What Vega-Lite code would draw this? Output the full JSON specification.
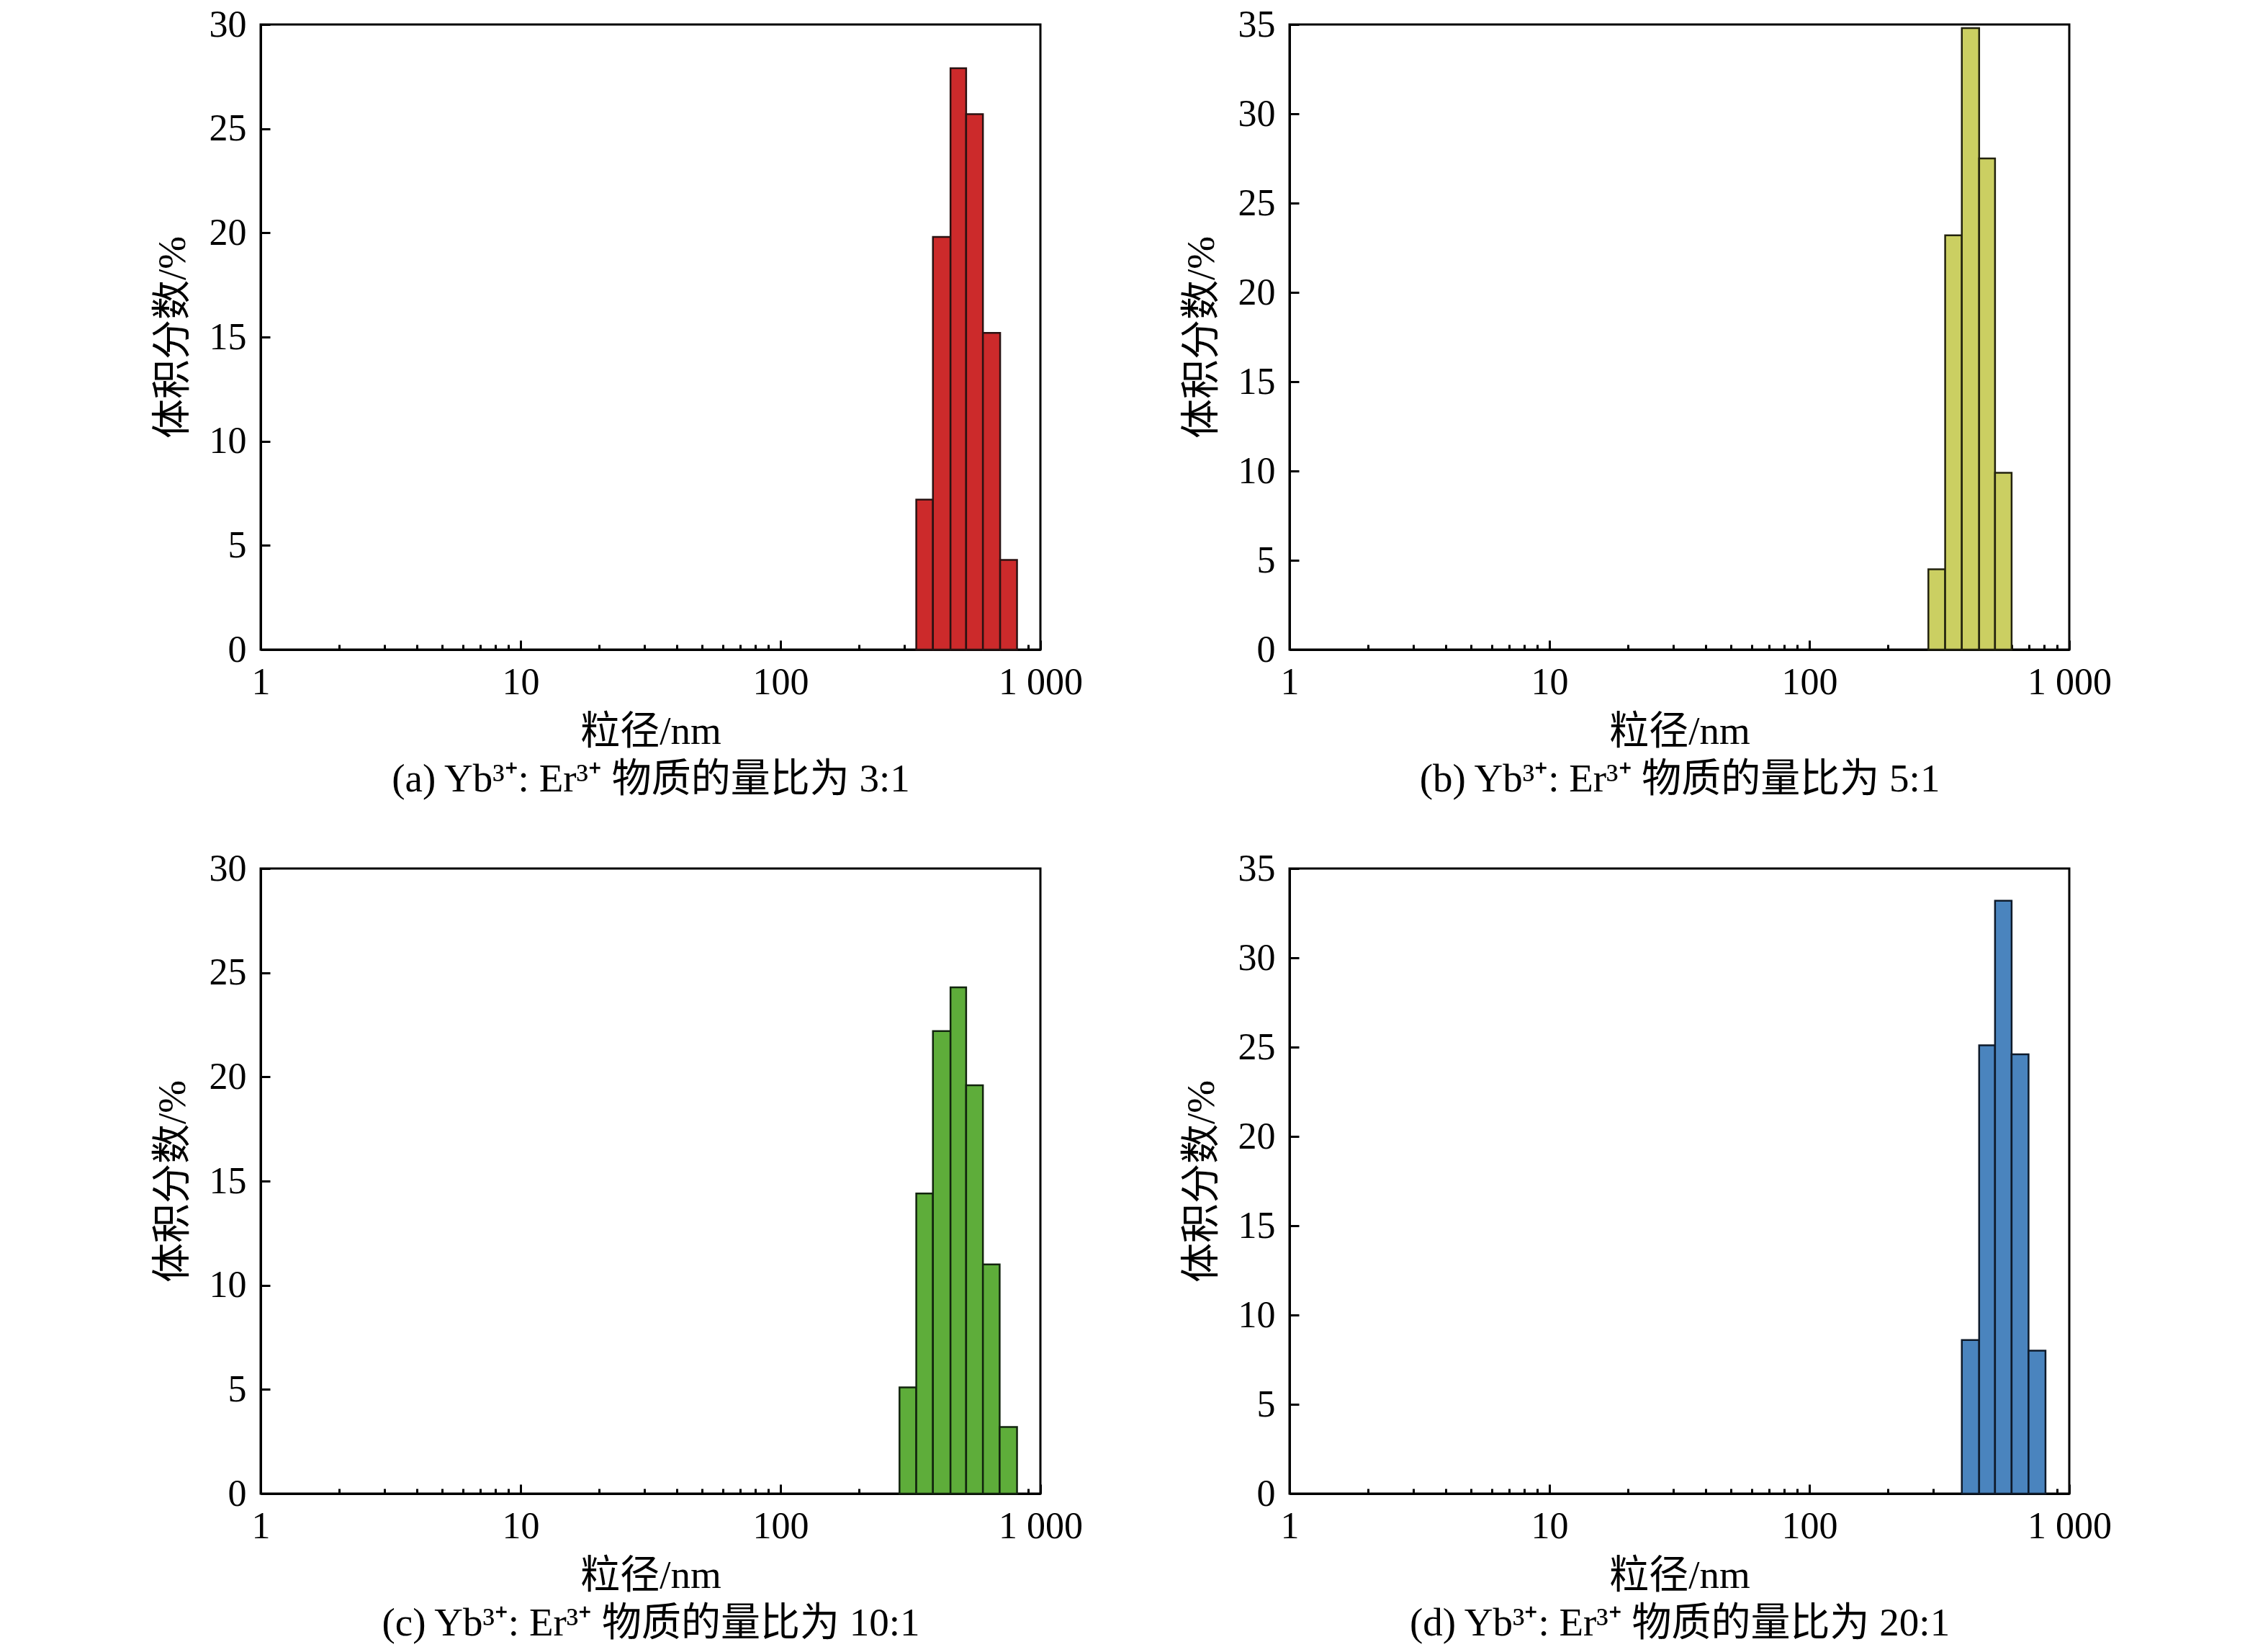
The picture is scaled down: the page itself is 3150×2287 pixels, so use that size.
{
  "$schema": "https://vega.github.io/schema/vega-lite/v6.json",
  "padding": {"left": 210, "top": 6, "right": 5, "bottom": 5},
  "data": {
    "values": [
      {"panel": "a", "d0": 333, "d1": 386, "v": 7.2},
      {"panel": "a", "d0": 386, "d1": 451, "v": 19.8},
      {"panel": "a", "d0": 451, "d1": 518, "v": 27.9},
      {"panel": "a", "d0": 518, "d1": 601, "v": 25.7},
      {"panel": "a", "d0": 601, "d1": 700, "v": 15.2},
      {"panel": "a", "d0": 700, "d1": 813, "v": 4.3},
      {"panel": "b", "d0": 287, "d1": 333, "v": 4.5},
      {"panel": "b", "d0": 333, "d1": 386, "v": 23.2},
      {"panel": "b", "d0": 386, "d1": 450, "v": 34.8},
      {"panel": "b", "d0": 450, "d1": 518, "v": 27.5},
      {"panel": "b", "d0": 518, "d1": 600, "v": 9.9},
      {"panel": "c", "d0": 287, "d1": 333, "v": 5.1},
      {"panel": "c", "d0": 333, "d1": 386, "v": 14.4},
      {"panel": "c", "d0": 386, "d1": 451, "v": 22.2},
      {"panel": "c", "d0": 451, "d1": 518, "v": 24.3},
      {"panel": "c", "d0": 518, "d1": 601, "v": 19.6},
      {"panel": "c", "d0": 601, "d1": 697, "v": 11.0},
      {"panel": "c", "d0": 697, "d1": 813, "v": 3.2},
      {"panel": "d", "d0": 386, "d1": 450, "v": 8.6},
      {"panel": "d", "d0": 450, "d1": 518, "v": 25.1},
      {"panel": "d", "d0": 518, "d1": 600, "v": 33.2},
      {"panel": "d", "d0": 600, "d1": 697, "v": 24.6},
      {"panel": "d", "d0": 697, "d1": 810, "v": 8.0}
    ]
  },
  "columns": 2,
  "spacing": {"row": 304, "column": 346},
  "bounds": "flush",
  "concat": [
    {
      "width": 1083, "height": 868,
      "transform": [{"filter": "datum.panel == 'a'"}],
      "mark": {"type": "bar", "color": "#CC2A2B", "stroke": "#2a1212", "strokeWidth": 2.5},
      "encoding": {
        "x": {"field": "d0", "type": "quantitative",
          "scale": {"type": "log", "domain": [1, 1000], "nice": false},
          "axis": {"title": ["粒径/nm", "(a) Yb³⁺: Er³⁺ 物质的量比为 3:1"],
            "values": [1,2,3,4,5,6,7,8,9,10,20,30,40,50,60,70,80,90,100,200,300,400,500,600,700,800,900,1000],
            "labelExpr": "datum.value == 1000 ? '1\u2005000' : (indexof([1,10,100], datum.value) >= 0 ? datum.label : '')",
            "tickSize": {"condition": {"test": "indexof([1,10,100,1000], datum.value) >= 0", "value": -13}, "value": -7}}},
        "x2": {"field": "d1"},
        "y": {"field": "v", "type": "quantitative",
          "scale": {"domain": [0, 30], "nice": false},
          "axis": {"title": "体积分数/%", "values": [0,5,10,15,20,25,30]}},
        "y2": {"datum": 0}
      }
    },
    {
      "width": 1083, "height": 868,
      "transform": [{"filter": "datum.panel == 'b'"}],
      "mark": {"type": "bar", "color": "#CBCF62", "stroke": "#22220e", "strokeWidth": 2.5},
      "encoding": {
        "x": {"field": "d0", "type": "quantitative",
          "scale": {"type": "log", "domain": [1, 1000], "nice": false},
          "axis": {"title": ["粒径/nm", "(b) Yb³⁺: Er³⁺ 物质的量比为 5:1"],
            "values": [1,2,3,4,5,6,7,8,9,10,20,30,40,50,60,70,80,90,100,200,300,400,500,600,700,800,900,1000],
            "labelExpr": "datum.value == 1000 ? '1\u2005000' : (indexof([1,10,100], datum.value) >= 0 ? datum.label : '')",
            "tickSize": {"condition": {"test": "indexof([1,10,100,1000], datum.value) >= 0", "value": -13}, "value": -7}}},
        "x2": {"field": "d1"},
        "y": {"field": "v", "type": "quantitative",
          "scale": {"domain": [0, 35], "nice": false},
          "axis": {"title": "体积分数/%", "values": [0,5,10,15,20,25,30,35]}},
        "y2": {"datum": 0}
      }
    },
    {
      "width": 1083, "height": 868,
      "transform": [{"filter": "datum.panel == 'c'"}],
      "mark": {"type": "bar", "color": "#5EAD3A", "stroke": "#12240e", "strokeWidth": 2.5},
      "encoding": {
        "x": {"field": "d0", "type": "quantitative",
          "scale": {"type": "log", "domain": [1, 1000], "nice": false},
          "axis": {"title": ["粒径/nm", "(c) Yb³⁺: Er³⁺ 物质的量比为 10:1"],
            "values": [1,2,3,4,5,6,7,8,9,10,20,30,40,50,60,70,80,90,100,200,300,400,500,600,700,800,900,1000],
            "labelExpr": "datum.value == 1000 ? '1\u2005000' : (indexof([1,10,100], datum.value) >= 0 ? datum.label : '')",
            "tickSize": {"condition": {"test": "indexof([1,10,100,1000], datum.value) >= 0", "value": -13}, "value": -7}}},
        "x2": {"field": "d1"},
        "y": {"field": "v", "type": "quantitative",
          "scale": {"domain": [0, 30], "nice": false},
          "axis": {"title": "体积分数/%", "values": [0,5,10,15,20,25,30]}},
        "y2": {"datum": 0}
      }
    },
    {
      "width": 1083, "height": 868,
      "transform": [{"filter": "datum.panel == 'd'"}],
      "mark": {"type": "bar", "color": "#4A84BE", "stroke": "#0e1a2a", "strokeWidth": 2.5},
      "encoding": {
        "x": {"field": "d0", "type": "quantitative",
          "scale": {"type": "log", "domain": [1, 1000], "nice": false},
          "axis": {"title": ["粒径/nm", "(d) Yb³⁺: Er³⁺ 物质的量比为 20:1"],
            "values": [1,2,3,4,5,6,7,8,9,10,20,30,40,50,60,70,80,90,100,200,300,400,500,600,700,800,900,1000],
            "labelExpr": "datum.value == 1000 ? '1\u2005000' : (indexof([1,10,100], datum.value) >= 0 ? datum.label : '')",
            "tickSize": {"condition": {"test": "indexof([1,10,100,1000], datum.value) >= 0", "value": -13}, "value": -7}}},
        "x2": {"field": "d1"},
        "y": {"field": "v", "type": "quantitative",
          "scale": {"domain": [0, 35], "nice": false},
          "axis": {"title": "体积分数/%", "values": [0,5,10,15,20,25,30,35]}},
        "y2": {"datum": 0}
      }
    }
  ],
  "config": {
    "font": "Liberation Serif, Noto Sans CJK SC",
    "view": {"stroke": "black", "strokeWidth": 3},
    "axis": {
      "grid": false,
      "domainColor": "black",
      "domainWidth": 3,
      "tickColor": "black",
      "tickWidth": 3,
      "labelColor": "black",
      "labelFontSize": 52,
      "labelFont": "Liberation Serif",
      "titleColor": "black",
      "titleFontSize": 55,
      "titleFontWeight": "normal",
      "titleFont": "Liberation Serif, Noto Sans CJK SC"
    },
    "axisX": {"labelPadding": 33, "titlePadding": 10, "titleLineHeight": 66, "labelFlush": false, "labelOverlap": false},
    "axisY": {"labelPadding": 33, "titlePadding": 22, "tickSize": -13, "labelOverlap": false}
  }
}
